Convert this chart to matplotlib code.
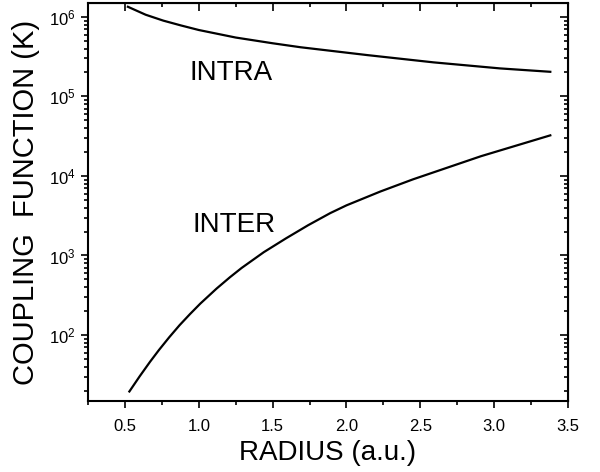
import matplotlib
matplotlib.use("Agg")
import matplotlib.pyplot as plt
from matplotlib.ticker import MultipleLocator, LogLocator, NullFormatter

plt.rcParams['font.family'] = ['Liberation Sans', 'DejaVu Sans']

# values
intra_r = [0.52, 0.64, 0.76, 0.88, 1.0, 1.25, 1.5, 1.69, 2.14, 2.59, 3.04, 3.38]
intra_k = [1.34e6, 1.065e6, 8.97e5, 7.8e5, 6.84e5, 5.5e5, 4.66e5, 4.15e5,
           3.31e5, 2.68e5, 2.25e5, 2.04e5]

inter_r = [0.53, 0.60, 0.67, 0.73, 0.80, 0.87, 0.94, 1.01, 1.12, 1.21, 1.29,
           1.44, 1.59, 1.74, 1.89, 2.0, 2.23, 2.45, 2.91, 3.38]
inter_k = [19.5, 30.3, 46.1, 64.7, 93.8, 133, 183, 248, 383, 531, 697,
           1100, 1640, 2400, 3410, 4270, 6380, 9060, 17700, 32400]

x_ticks = [0.5, 1.0, 1.5, 2.0, 2.5, 3.0, 3.5]

fig = plt.figure(figsize=(6, 4.72), dpi=100)
ax = fig.add_axes([0.1467, 0.1504, 0.80, 0.843])

ax.plot(intra_r, intra_k, color='black', lw=1.6)
ax.plot(inter_r, inter_k, color='black', lw=1.6)

ax.set_yscale('log')
ax.set_xlim(0.25, 3.5)
ax.set_ylim(14.8, 1.49e6)

ax.set_xticks(x_ticks)
ax.xaxis.set_minor_locator(MultipleLocator(0.25))
ax.yaxis.set_major_locator(LogLocator(base=10))
ax.yaxis.set_minor_locator(LogLocator(base=10, subs=range(2, 10)))
ax.yaxis.set_minor_formatter(NullFormatter())

ax.tick_params(which='both', direction='out', width=1.2, labelsize=12,
               top=False, right=False)
ax.tick_params(which='major', length=5)
ax.tick_params(which='minor', length=3)
ax.tick_params(axis='x', pad=8)
ax.tick_params(axis='y', pad=4)

for s in ax.spines.values():
    s.set_linewidth(1.5)

# mirrored ticks on top and right point into the plot
top = ax.secondary_xaxis('top')
top.set_xticks(x_ticks)
top.xaxis.set_minor_locator(MultipleLocator(0.25))
top.tick_params(which='both', direction='in', width=1.2, labeltop=False)
top.tick_params(which='major', length=6)
top.tick_params(which='minor', length=3)

right = ax.secondary_yaxis('right')
right.yaxis.set_major_locator(LogLocator(base=10))
right.yaxis.set_minor_locator(LogLocator(base=10, subs=range(2, 10)))
right.tick_params(which='both', direction='in', width=1.2, labelright=False)
right.tick_params(which='major', length=6)
right.tick_params(which='minor', length=3)

ax.set_xlabel('RADIUS (a.u.)', fontsize=20, labelpad=4)
ax.set_ylabel('COUPLING  FUNCTION (K)', fontsize=21, labelpad=6)

ax.text(1.216, 1.6e5, 'INTRA', fontsize=20, ha='center', va='baseline')
ax.text(1.237, 2.0e3, 'INTER', fontsize=20, ha='center', va='baseline')

fig.savefig('out.png', dpi=100)
